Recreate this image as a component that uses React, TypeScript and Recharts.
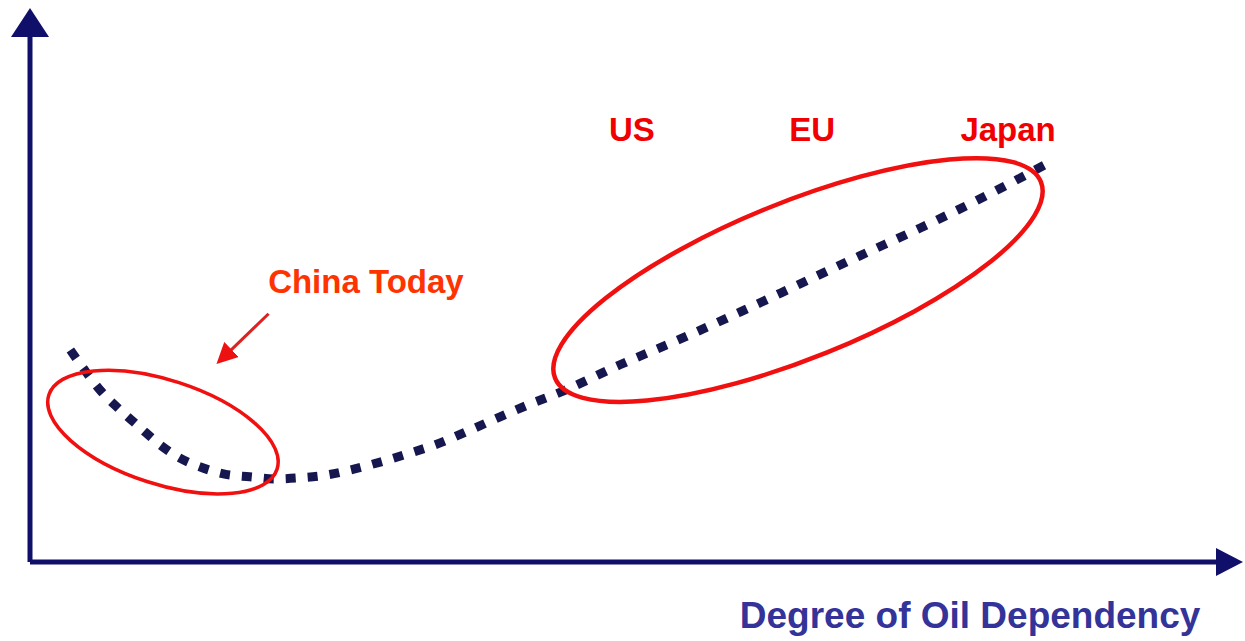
import React from 'react';
import { LineChart, Line, XAxis, YAxis, ReferenceDot, ReferenceLine } from 'recharts';

// Degree of oil dependency (x) vs. curve value (y)
const dependency = [3.4, 4.6, 5.9, 7.6, 9.3, 11.0, 12.6, 14.3, 16.4, 18.5, 20.6, 22.7, 24.9, 27.0, 29.5, 32.0, 34.5, 37.1, 39.6, 42.1, 44.7, 49.7, 54.8, 59.8, 64.9, 69.9, 75.0, 80.0, 85.5];
const level = [40.3, 36.5, 32.7, 28.9, 25.5, 22.2, 19.8, 18.1, 16.7, 16.2, 15.8, 16.0, 16.5, 17.5, 19.0, 20.7, 22.6, 25.1, 27.6, 30.0, 32.3, 37.5, 42.4, 47.5, 52.9, 58.2, 63.5, 69.0, 75.5];

const curveData = dependency.map((x, i) => ({ x, y: level[i] }));

// Country labels (data coordinates)
const countryNames = ['US', 'EU', 'Japan'];
const countryX = [50.7, 65.9, 82.4];
const countryY = [80.0, 80.0, 80.0];

const chinaLabel = 'China Today';
const chinaLabelPos = { x: 28.3, y: 51.1 };
const chinaArrow = [{ x: 20.1, y: 47.2 }, { x: 16.8, y: 40.0 }];

// Highlight ellipses centres (data coordinates)
const ellipseCenters = [{ x: 11.2, y: 24.7 }, { x: 64.7, y: 53.6 }];
const ellipseStyles = [
  { rx: 120, ry: 52, angle: 18, width: 3.5 },
  { rx: 262, ry: 78, angle: -22, width: 4.5 },
];

const axisTitle = 'Degree of Oil Dependency';
const axisTitlePos = { x: 79.2, y: -12.5 };

const NAVY = '#10106b';
const FONT = '"Liberation Sans", Arial, sans-serif';

export default function App() {
  return (
    <div style={{ position: 'absolute', left: 0, top: 0, width: 1245, height: 641, background: '#fff' }}>
      <LineChart width={1245} height={641} data={curveData} margin={{ top: 36, right: 28, bottom: 79, left: 30 }}>
        <XAxis dataKey="x" type="number" domain={[0, 100]} hide />
        <YAxis type="number" domain={[0, 100]} hide />
        {/* axes */}
        <ReferenceLine x={0} stroke={NAVY} strokeWidth={5} ifOverflow="visible" />
        <ReferenceLine y={0} stroke={NAVY} strokeWidth={5} ifOverflow="visible" />
        {/* axis arrowheads */}
        <ReferenceDot
          x={0}
          y={100}
          ifOverflow="visible"
          shape={(p: any) => (
            <polygon points={`${p.cx - 19},${p.cy + 1} ${p.cx + 19},${p.cy + 1} ${p.cx},${p.cy - 28}`} fill={NAVY} />
          )}
        />
        <ReferenceDot
          x={100}
          y={0}
          ifOverflow="visible"
          shape={(p: any) => (
            <polygon points={`${p.cx - 1},${p.cy - 14} ${p.cx - 1},${p.cy + 14} ${p.cx + 26},${p.cy}`} fill={NAVY} />
          )}
        />
        <Line
          dataKey="y"
          type="monotone"
          stroke="#17174f"
          strokeWidth={9}
          strokeDasharray="10 12"
          dot={false}
          activeDot={false}
          isAnimationActive={false}
        />
        {ellipseCenters.map((c, i) => (
          <ReferenceDot
            key={`e${i}`}
            x={c.x}
            y={c.y}
            ifOverflow="visible"
            shape={(p: any) => (
              <ellipse
                cx={p.cx}
                cy={p.cy}
                rx={ellipseStyles[i].rx}
                ry={ellipseStyles[i].ry}
                transform={`rotate(${ellipseStyles[i].angle} ${p.cx} ${p.cy})`}
                fill="none"
                stroke="#f01010"
                strokeWidth={ellipseStyles[i].width}
              />
            )}
          />
        ))}
        {countryNames.map((name, i) => (
          <ReferenceDot
            key={name}
            x={countryX[i]}
            y={countryY[i]}
            ifOverflow="visible"
            shape={(p: any) => (
              <text x={p.cx} y={p.cy} textAnchor="middle" fill="#f00000" fontFamily={FONT} fontWeight="bold" fontSize={33}>
                {name}
              </text>
            )}
          />
        ))}
        <ReferenceDot
          x={chinaLabelPos.x}
          y={chinaLabelPos.y}
          ifOverflow="visible"
          shape={(p: any) => (
            <text x={p.cx} y={p.cy} textAnchor="middle" fill="#ff3300" fontFamily={FONT} fontWeight="bold" fontSize={33}>
              {chinaLabel}
            </text>
          )}
        />
        <ReferenceLine
          segment={chinaArrow}
          ifOverflow="visible"
          shape={(p: any) => (
            <g>
              <defs>
                <marker id="redArrow" markerWidth="7" markerHeight="7" refX="1" refY="3.5" orient="auto" markerUnits="strokeWidth">
                  <path d="M0,0 L7,3.5 L0,7 Z" fill="#ee1111" />
                </marker>
              </defs>
              <line x1={p.x1} y1={p.y1} x2={p.x2} y2={p.y2} stroke="#dd2222" strokeWidth={3} markerEnd="url(#redArrow)" />
            </g>
          )}
        />
        <ReferenceDot
          x={axisTitlePos.x}
          y={axisTitlePos.y}
          ifOverflow="visible"
          shape={(p: any) => (
            <text x={p.cx} y={p.cy} textAnchor="middle" fill="#333399" fontFamily={FONT} fontWeight="bold" fontSize={37}>
              {axisTitle}
            </text>
          )}
        />
      </LineChart>
    </div>
  );
}
